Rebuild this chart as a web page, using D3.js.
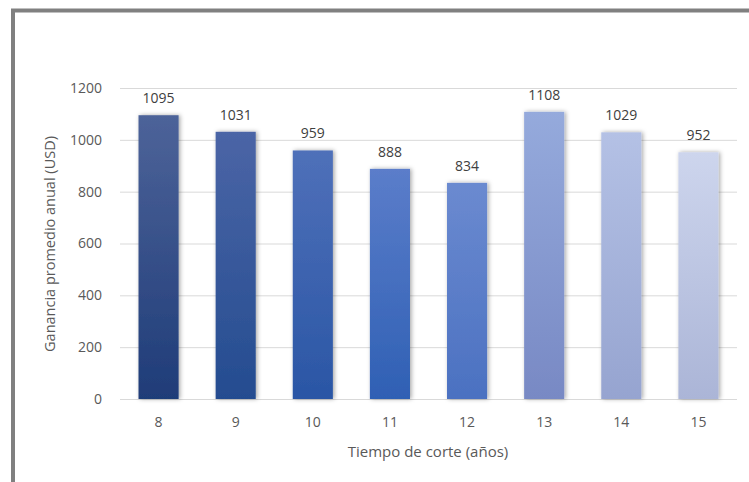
<!DOCTYPE html>
<html>
<head>
<meta charset="utf-8">
<script src="https://cdn.jsdelivr.net/npm/d3@7"></script>
<style>
  html, body { margin: 0; padding: 0; background: #fff; }
  svg { display: block; }
  text { font-family: "Open Sans", "Noto Sans", sans-serif; }
</style>
</head>
<body>
<svg id="chart" width="749" height="482"></svg>
<script>
// Cutting age (years) and average annual profit (USD)
const categories = ["8", "9", "10", "11", "12", "13", "14", "15"];
const values = [1095, 1031, 959, 888, 834, 1108, 1029, 952];
const yTicks = [0, 200, 400, 600, 800, 1000, 1200];
// Gradient stops per bar: top colour, bottom colour
const topColors = ["#4d6399", "#4b65a6", "#4f70b9", "#5b7dca", "#6b8ad0", "#95aadc", "#b4c1e5", "#cdd5ed"];
const bottomColors = ["#1f3c78", "#244c90", "#2a56a5", "#2f60b4", "#4b71c1", "#7889c4", "#96a4d0", "#abb5d7"];

const svg = d3.select("#chart");
const W = 749, H = 482;

// Frame lines along top and left
svg.append("line").attr("x1", 11).attr("x2", W).attr("y1", 10.5).attr("y2", 10.5)
  .attr("stroke", "#808080").attr("stroke-width", 4);
svg.append("line").attr("x1", 13).attr("x2", 13).attr("y1", 9).attr("y2", H)
  .attr("stroke", "#808080").attr("stroke-width", 4);

const x = d3.scaleBand().domain(categories).range([120, 737]).paddingInner(0.48).paddingOuter(0.24);
const y = d3.scaleLinear().domain([0, 1200]).range([399, 88]);

const defs = svg.append("defs");
categories.forEach((c, i) => {
  const g = defs.append("linearGradient").attr("id", "grad" + i)
    .attr("x1", 0).attr("y1", 0).attr("x2", 0).attr("y2", 1);
  g.append("stop").attr("offset", "0%").attr("stop-color", topColors[i]);
  g.append("stop").attr("offset", "100%").attr("stop-color", bottomColors[i]);
});
const shadow = defs.append("filter").attr("id", "shadow")
  .attr("x", "-30%").attr("y", "-10%").attr("width", "160%").attr("height", "120%");
shadow.append("feDropShadow").attr("dx", 1.5).attr("dy", 0).attr("stdDeviation", 2)
  .attr("flood-color", "#000").attr("flood-opacity", 0.35);

// Gridlines and y tick labels
const yAxis = d3.axisLeft(y).tickValues(yTicks).tickFormat(d3.format("d"))
  .tickSize(-(737 - 120)).tickPadding(18);
const ga = svg.append("g").attr("transform", "translate(120,0)").call(yAxis);
ga.select(".domain").remove();
ga.selectAll(".tick line").attr("stroke", "#d9d9d9").attr("stroke-width", 1);
ga.selectAll(".tick text").attr("fill", "#595959").style("font-size", "14px");

// x tick labels
const xAxis = d3.axisBottom(x).tickSize(0).tickPadding(18);
const gx = svg.append("g").attr("transform", "translate(0,399)").call(xAxis);
gx.select(".domain").remove();
gx.selectAll(".tick text").attr("fill", "#595959").style("font-size", "14px");

// Bars
svg.append("g").selectAll("rect").data(values).join("rect")
  .attr("x", (d, i) => x(categories[i]))
  .attr("width", x.bandwidth())
  .attr("y", d => y(d))
  .attr("height", d => y(0) - y(d))
  .attr("fill", (d, i) => "url(#grad" + i + ")")
  .attr("filter", "url(#shadow)");

// Value labels
svg.append("g").selectAll("text").data(values).join("text")
  .attr("x", (d, i) => x(categories[i]) + x.bandwidth() / 2)
  .attr("y", d => y(d) - 12)
  .attr("text-anchor", "middle")
  .attr("fill", "#404040")
  .style("font-size", "14px")
  .text(d => d);

// Axis titles
svg.append("text").attr("x", 428).attr("y", 457).attr("text-anchor", "middle")
  .attr("fill", "#595959").style("font-size", "15px").text("Tiempo de corte (años)");
svg.append("text").attr("transform", "translate(55,244) rotate(-90)").attr("text-anchor", "middle")
  .attr("fill", "#595959").style("font-size", "14.5px").text("Ganancia promedio anual (USD)");
</script>
</body>
</html>
